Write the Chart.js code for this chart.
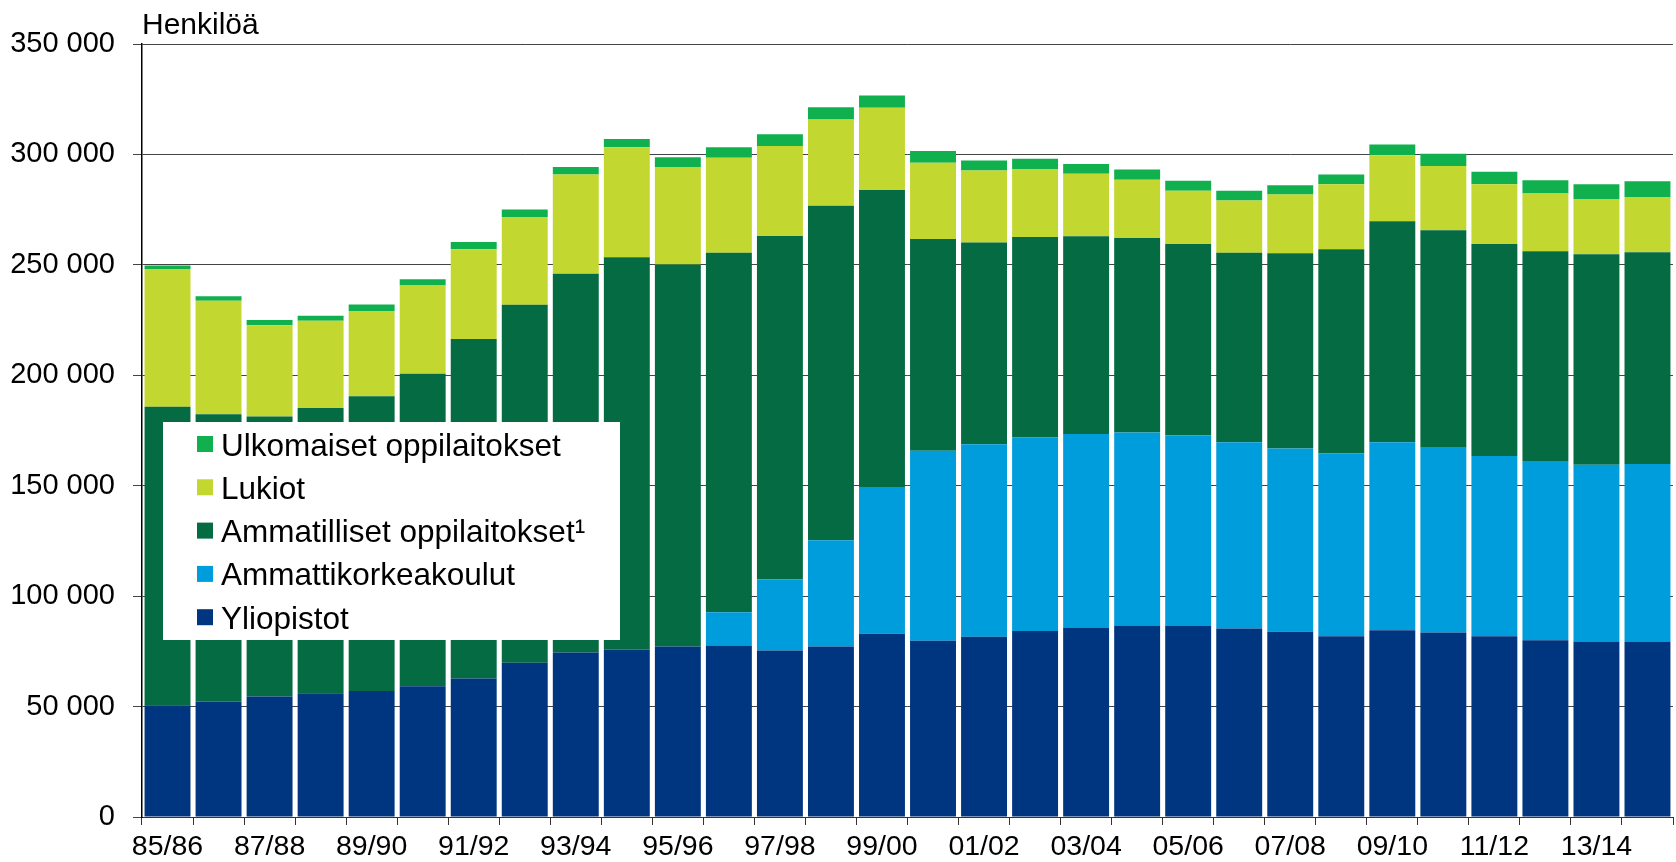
<!DOCTYPE html>
<html>
<head>
<meta charset="utf-8">
<script src="https://cdn.jsdelivr.net/npm/chart.js@4.4.0/dist/chart.umd.min.js"></script>
<style>
  body { margin: 0; background: #fff; }
  #wrap { width: 1676px; height: 862px; position: relative; }
</style>
</head>
<body>
<div id="wrap"><canvas id="bar-chart"></canvas></div>
<script>
// lukuvuodet
const labels = ['85/86','86/87','87/88','88/89','89/90','90/91','91/92','92/93','93/94','94/95',
  '95/96','96/97','97/98','98/99','99/00','00/01','01/02','02/03','03/04','04/05',
  '05/06','06/07','07/08','08/09','09/10','10/11','11/12','12/13','13/14','14/15'];

const yliopistot = [50600,52300,54600,56000,57100,59200,62700,69800,74500,75800,
  77200,77700,75400,77200,83000,79800,81600,84200,85800,86700,
  86500,85300,83900,81800,84600,83500,81800,80000,79500,79500];
const amk = [0,0,0,0,0,0,0,0,0,0,
  0,15000,32100,48100,66100,86000,87200,87800,87600,87400,
  86400,84400,83000,82800,85100,83700,81700,81200,80000,80300];
const ammatilliset = [135100,130100,126700,129200,133400,141500,153700,162100,171500,177600,
  173000,162800,155600,151500,134800,95900,91300,90600,89500,88100,
  86500,85800,88300,92500,100100,98500,95900,95000,95300,95900];
const lukiot = [62400,51300,41400,39500,38600,40000,40700,39800,44900,49900,
  44100,43000,40700,39000,37200,34500,32600,30800,28400,26300,
  24100,23600,26600,29400,29800,29100,27100,26100,25000,25000];
const ulkomaiset = [1600,2100,2300,2300,3000,2800,3200,3400,3400,3700,
  4400,4800,5300,5600,5600,5300,4600,4600,4400,4700,
  4600,4400,4200,4400,4900,5500,5700,6000,6700,7100];

const FONT = "'Liberation Sans', Arial, sans-serif";

function fmt(v) {
  return String(v).replace(/\B(?=(\d{3})+(?!\d))/g, ' ');
}

// otsikko "Henkilöä" ja selite kuvaajan sisällä
const extras = {
  id: 'extras',
  afterDraw(chart) {
    const c = chart.ctx;
    const area = chart.chartArea;
    c.save();
    c.fillStyle = '#000';
    c.font = '30px ' + FONT;
    c.textAlign = 'left';
    c.textBaseline = 'alphabetic';
    c.fillText('Henkilöä', area.left, 34);

    // selite
    c.fillStyle = '#fff';
    c.fillRect(163, 422, 457, 218);
    c.font = '31.5px ' + FONT;
    const ds = chart.data.datasets.slice().reverse();
    ds.forEach(function(d, i) {
      const cy = 444 + i * 43.3;
      c.fillStyle = d.backgroundColor;
      c.fillRect(197, cy - 8, 16, 16);
      c.fillStyle = '#000';
      c.fillText(d.label, 221, cy + 11.5);
    });
    c.restore();
  }
};

var ctx = document.getElementById('bar-chart');
new Chart(ctx, {
  type: 'bar',
  data: {
    labels: labels,
    datasets: [
      { label: 'Yliopistot', data: yliopistot, backgroundColor: '#00357f' },
      { label: 'Ammattikorkeakoulut', data: amk, backgroundColor: '#009ddc' },
      { label: 'Ammatilliset oppilaitokset¹', data: ammatilliset, backgroundColor: '#046b42' },
      { label: 'Lukiot', data: lukiot, backgroundColor: '#c2d72f' },
      { label: 'Ulkomaiset oppilaitokset', data: ulkomaiset, backgroundColor: '#10b04f' }
    ]
  },
  options: {
    responsive: true,
    maintainAspectRatio: false,
    animation: false,
    layout: { padding: { top: 44, right: 3, left: 0, bottom: 0 } },
    datasets: { bar: { barPercentage: 0.9, categoryPercentage: 1.0 } },
    plugins: {
      legend: { display: false },
      tooltip: { enabled: false }
    },
    scales: {
      x: {
        stacked: true,
        grid: { display: true, drawOnChartArea: false, drawTicks: true, tickLength: 8, color: '#333' },
        border: { color: '#333', width: 1 },
        ticks: {
          autoSkip: false,
          maxRotation: 0,
          padding: 5,
          color: '#000',
          font: { family: FONT, size: 28.5 },
          callback: function(v, i) { return i % 2 === 0 ? this.getLabelForValue(v) : ''; }
        },
        afterFit: function(s) { s.height = 45; }
      },
      y: {
        stacked: true,
        min: 0,
        max: 350000,
        grid: { color: '#444', lineWidth: 1, tickLength: 9 },
        border: { color: '#000', width: 1.5 },
        ticks: {
          stepSize: 50000,
          padding: 18,
          color: '#000',
          font: { family: FONT, size: 29 },
          callback: function(v) { return fmt(v); }
        },
        afterFit: function(s) { s.width = 142; }
      }
    }
  },
  plugins: [extras]
});
</script>
</body>
</html>
